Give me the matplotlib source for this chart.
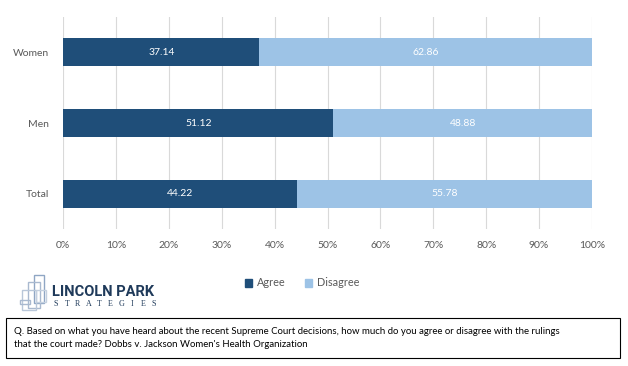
import matplotlib.pyplot as plt
from matplotlib.patches import Rectangle

plt.rcParams['font.family'] = ['Lato', 'DejaVu Sans']

categories = ['Total', 'Men', 'Women']
agree = [44.22, 51.12, 37.14]
disagree = [55.78, 48.88, 62.86]
ticks = [0, 10, 20, 30, 40, 50, 60, 70, 80, 90, 100]
tick_labels = ['%d%%' % t for t in ticks]
question = ("Q. Based on what you have heard about the recent Supreme Court decisions, how much do you agree or disagree with the rulings\n"
            "that the court made? Dobbs v. Jackson Women's Health Organization")

dark = '#1F4E79'
light = '#9DC3E6'
grey = '#595959'

fig = plt.figure(figsize=(6.28, 3.66), dpi=100)
W, H = 628, 366
ax = fig.add_axes([63 / W, 1 - 229 / H, (592 - 63) / W, (229 - 17) / H])

y = range(len(categories))
ax.barh(y, agree, height=0.4, color=dark, zorder=3)
ax.barh(y, disagree, left=agree, height=0.4, color=light, zorder=3)
for i in y:
    ax.text(agree[i] / 2, i, '%.2f' % agree[i], ha='center', va='center', color='white', fontsize=7.5, zorder=4)
    ax.text(agree[i] + disagree[i] / 2, i, '%.2f' % disagree[i], ha='center', va='center', color='white', fontsize=7.5, zorder=4)

ax.set_xlim(0, 100)
ax.set_ylim(-0.5, 2.5)
ax.set_xticks(ticks)
ax.set_xticklabels(tick_labels)
ax.set_yticks(list(y))
ax.set_yticklabels(categories)
ax.tick_params(axis='both', colors=grey, labelsize=7.5, length=0)
ax.tick_params(axis='x', pad=9)
ax.tick_params(axis='y', pad=10)
ax.grid(axis='x', color='#D9D9D9', linewidth=0.8, zorder=0)
for s in ax.spines.values():
    s.set_visible(False)

# legend
fig.legend(handles=[Rectangle((0, 0), 1, 1, color=dark), Rectangle((0, 0), 1, 1, color=light)],
           labels=['Agree', 'Disagree'], loc='center', bbox_to_anchor=(302 / W, 1 - 283 / H),
           ncol=2, frameon=False, fontsize=7.8, handlelength=0.7, handleheight=0.7,
           columnspacing=1.8, handletextpad=0.4, labelcolor=grey)

# logo
logo = fig.add_axes([0, 0, 1, 1], zorder=-1)
logo.set_xlim(0, W)
logo.set_ylim(H, 0)
logo.axis('off')
for (x0, y0, w, h, c) in [(34, 275, 10, 28, '#8FA6C4'), (28, 282, 12, 26, '#A9B9CF'),
                          (22, 290, 14, 20, '#B9C7D9'), (20, 300, 10, 4, '#A9B9CF'),
                          (36, 290, 10, 12, '#C4D0DF')]:
    logo.add_patch(Rectangle((x0, y0), w, h, fill=False, edgecolor=c, linewidth=1.0))
logo.text(52, 292, 'LINCOLN PARK', fontsize=10.5, fontweight='bold', color='#1F3A5A', va='center',
          family=['Roboto', 'DejaVu Sans'])
for k, ch in enumerate('STRATEGIES'):
    logo.text(56 + k * 10.9, 304, ch, fontsize=5.8, color='#1F3A5A', va='center', ha='center',
              family=['Liberation Serif', 'DejaVu Serif'])

# question box
logo.add_patch(Rectangle((6, 318), 614, 40, fill=False, edgecolor='black', linewidth=0.8))
logo.text(14, 338, question, fontsize=6.9, color='black', va='center', linespacing=1.45)

fig.savefig('out.png', dpi=100)
